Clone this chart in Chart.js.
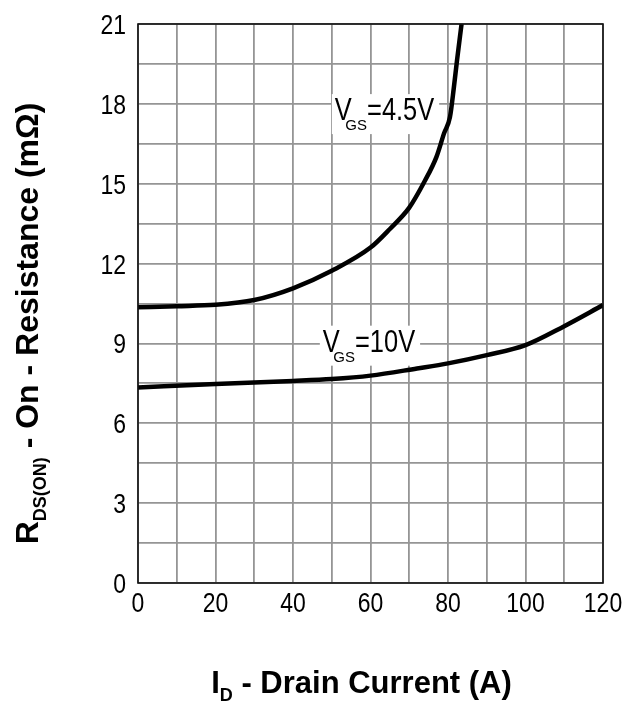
<!DOCTYPE html>
<html>
<head>
<meta charset="utf-8">
<script src="https://cdn.jsdelivr.net/npm/chart.js@4/dist/chart.umd.min.js"></script>
<style>
  html, body { margin: 0; padding: 0; background: #fff; }
</style>
</head>
<body>
<canvas id="chart" width="634" height="706"></canvas>
<script>
// RDS(on) vs drain current, two gate drive levels
const idVgs45 = [0, 10, 20, 30, 40, 50, 60, 65, 70, 74, 77, 79, 80.5, 81.5, 82.3, 83.5];
const rdsVgs45 = [10.36, 10.4, 10.45, 10.63, 11.07, 11.73, 12.6, 13.3, 14.1, 15.1, 16.0, 16.9, 17.5, 18.6, 19.6, 21];
const idVgs10 = [0, 20, 40, 50, 60, 72, 80, 90, 100, 110, 120];
const rdsVgs10 = [7.34, 7.48, 7.59, 7.66, 7.79, 8.06, 8.25, 8.56, 8.94, 9.65, 10.44];

const xTicks = [0, 20, 40, 60, 80, 100, 120];
const yTicks = [0, 3, 6, 9, 12, 15, 18, 21];

const curveLabels = [
  { sub: 'GS', rest: '=4.5V', x: 50.8, y: 17.39 },
  { sub: 'GS', rest: '=10V', x: 47.7, y: 8.69 }
];

const SANS = '"Liberation Sans", Arial, sans-serif';
const NARROW = 0.82;

function toPoints(xs, ys) {
  return xs.map((x, i) => ({ x: x, y: ys[i] }));
}

// condensed text: squeeze horizontally around the anchor
function narrowText(ctx, text, x, y, size, align) {
  ctx.save();
  ctx.font = size + 'px ' + SANS;
  ctx.textAlign = align || 'left';
  ctx.textBaseline = 'alphabetic';
  ctx.translate(x, y);
  ctx.scale(NARROW, 1);
  ctx.fillText(text, 0, 0);
  ctx.restore();
}

function narrowWidth(ctx, text, size) {
  ctx.save();
  ctx.font = size + 'px ' + SANS;
  const w = ctx.measureText(text).width * NARROW;
  ctx.restore();
  return w;
}

// main text + subscript + rest, drawn left to right from x
function titleRun(ctx, size, main, sub, rest, x, y) {
  ctx.font = 'bold ' + size + 'px ' + SANS;
  ctx.fillText(main, x, y);
  x += ctx.measureText(main).width;
  ctx.font = 'bold 18px ' + SANS;
  ctx.fillText(sub, x, y + 8);
  x += ctx.measureText(sub).width;
  ctx.font = 'bold ' + size + 'px ' + SANS;
  ctx.fillText(rest, x, y);
}

function runWidth(ctx, size, main, sub, rest) {
  ctx.font = 'bold ' + size + 'px ' + SANS;
  let w = ctx.measureText(main).width + ctx.measureText(rest).width;
  ctx.font = 'bold 18px ' + SANS;
  return w + ctx.measureText(sub).width;
}

const decorations = {
  id: 'decorations',
  beforeDatasetsDraw(chart) {
    const ctx = chart.ctx;
    const xs = chart.scales.x, ys = chart.scales.y;
    curveLabels.forEach(l => {
      const x0 = xs.getPixelForValue(l.x);
      const base = ys.getPixelForValue(l.y);
      const vW = narrowWidth(ctx, 'V', 31);
      ctx.font = '15px ' + SANS;
      const subX = x0 + vW * 0.62;
      const subW = ctx.measureText(l.sub).width;
      const restX = subX + subW;
      const end = restX + narrowWidth(ctx, l.rest, 31);
      ctx.fillStyle = '#fff';
      ctx.fillRect(x0 - 3, base - 26, end - x0 + 8, 40);
      ctx.fillStyle = '#000';
      narrowText(ctx, 'V', x0, base, 31);
      ctx.font = '15px ' + SANS;
      ctx.fillText(l.sub, subX, base + 10);
      narrowText(ctx, l.rest, restX, base, 31);
    });
  },
  afterDraw(chart) {
    const ctx = chart.ctx;
    const a = chart.chartArea;
    const xs = chart.scales.x, ys = chart.scales.y;
    ctx.save();
    ctx.strokeStyle = '#111';
    ctx.lineWidth = 1.6;
    ctx.strokeRect(a.left, a.top, a.right - a.left, a.bottom - a.top);

    ctx.fillStyle = '#000';
    xTicks.forEach(v => narrowText(ctx, String(v), xs.getPixelForValue(v), a.bottom + 29, 28, 'center'));
    yTicks.forEach(v => narrowText(ctx, String(v), a.left - 12, ys.getPixelForValue(v) + 10, 28, 'right'));

    // x axis title
    const xw = runWidth(ctx, 31, 'I', 'D', ' - Drain Current (A)');
    titleRun(ctx, 31, 'I', 'D', ' - Drain Current (A)', (a.left + a.right) / 2 - 9 - xw / 2, 693);

    // y axis title, reading upward
    const yw = runWidth(ctx, 32, 'R', 'DS(ON)', ' - On - Resistance (m\u03a9)');
    ctx.translate(38, (a.top + a.bottom) / 2 + 20);
    ctx.rotate(-Math.PI / 2);
    titleRun(ctx, 32, 'R', 'DS(ON)', ' - On - Resistance (m\u03a9)', -yw / 2, 0);
    ctx.restore();
  }
};

const ctx = document.getElementById('chart').getContext('2d');
new Chart(ctx, {
  type: 'scatter',
  data: {
    datasets: [
      {
        label: 'VGS=4.5V',
        data: toPoints(idVgs45, rdsVgs45),
        showLine: true,
        borderColor: '#000',
        borderWidth: 4.5,
        pointRadius: 0,
        cubicInterpolationMode: 'monotone'
      },
      {
        label: 'VGS=10V',
        data: toPoints(idVgs10, rdsVgs10),
        showLine: true,
        borderColor: '#000',
        borderWidth: 4.5,
        pointRadius: 0,
        cubicInterpolationMode: 'monotone'
      }
    ]
  },
  options: {
    responsive: false,
    animation: false,
    events: [],
    layout: { padding: { top: 24, right: 31, left: 0, bottom: 0 } },
    plugins: { legend: { display: false }, tooltip: { enabled: false } },
    scales: {
      x: {
        type: 'linear',
        min: 0,
        max: 120,
        ticks: { stepSize: 10, display: false },
        grid: { color: '#959595', lineWidth: 1.8, drawTicks: false },
        border: { display: false },
        afterFit: s => { s.height = 123; }
      },
      y: {
        type: 'linear',
        min: 0,
        max: 21,
        ticks: { stepSize: 1.5, display: false },
        grid: { color: '#959595', lineWidth: 1.8, drawTicks: false },
        border: { display: false },
        afterFit: s => { s.width = 138; }
      }
    }
  },
  plugins: [decorations]
});
</script>
</body>
</html>
